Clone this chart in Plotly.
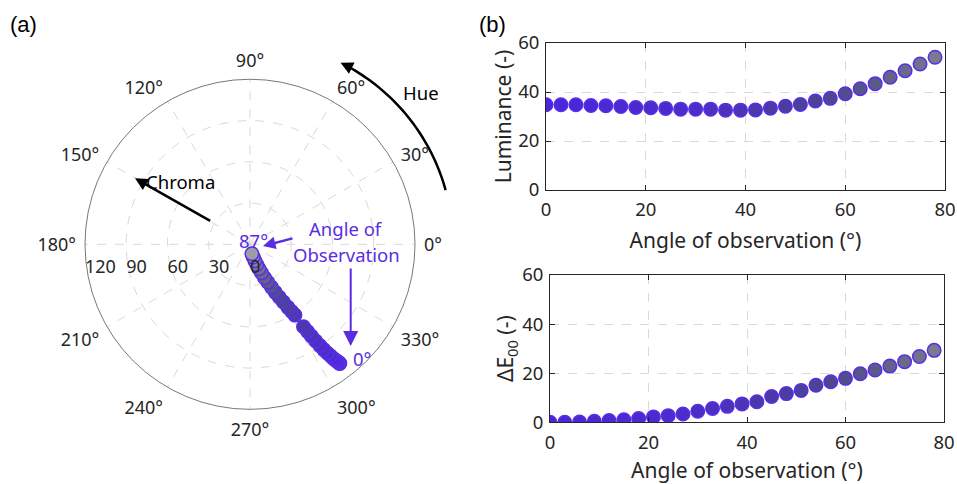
import numpy as np
import plotly.graph_objects as go

W, H = 957, 484

# ---------------- data ----------------
obs_angle = [0, 3, 6, 9, 12, 15, 18, 21, 24, 27, 30, 33, 36, 39, 42, 45, 48, 51,
             54, 57, 60, 63, 66, 69, 72, 75, 78, 81, 84, 87]
chroma = [108.5, 108.3, 107.8, 107.0, 106.0, 104.5, 102.5, 100.0, 97.0, 93.5,
          89.5, 85.0, 80.5, 76.0, 71.5, 61.0, 57.5, 53.5, 48.5, 44.0,
          39.5, 35.0, 30.5, 26.5, 22.5, 19.0, 15.5, 12.5, 9.5, 7.0]
hue = [307.0, 307.0, 306.9, 306.8, 306.6, 306.4, 306.1, 305.8, 305.4, 305.0,
       304.6, 304.2, 303.8, 303.4, 303.0, 302.4, 301.8, 301.0, 300.0, 299.0,
       297.8, 296.6, 295.2, 293.6, 292.0, 290.3, 288.5, 286.5, 284.2, 281.5]

angle_r = [0, 3, 6, 9, 12, 15, 18, 21, 24, 27, 30, 33, 36, 39, 42, 45, 48, 51,
           54, 57, 60, 63, 66, 69, 72, 75, 78]
luminance = [34.8, 34.8, 34.8, 34.5, 34.4, 34.1, 33.7, 33.6, 33.3, 33.0, 33.0,
             33.0, 32.6, 32.6, 32.7, 33.4, 34.2, 34.9, 36.3, 37.4, 39.3, 41.3,
             43.4, 46.0, 48.7, 51.4, 54.2]
delta_e = [0.0, 0.0, 0.1, 0.4, 0.7, 1.0, 1.5, 2.2, 2.7, 3.4, 4.5, 5.6, 6.5, 7.5,
           8.4, 10.5, 11.7, 13.0, 15.1, 16.5, 17.9, 19.8, 21.3, 22.9, 24.7,
           26.8, 29.3]

angular_ticks = [0, 30, 60, 90, 120, 150, 180, 210, 240, 270, 300, 330]
angular_labels = ["0°", "30°", "60°", "90°", "120°", "150°", "180°", "210°",
                  "240°", "270°", "300°", "330°"]
radial_ticks = [0, 30, 60, 90, 120]
cart_ticks_x = [0, 20, 40, 60, 80]
cart_ticks_y = [0, 20, 40, 60]

# ---------------- style ----------------
FONT = "Noto Sans"
TXT = "#262626"
PURPLE = "#5a2de3"
EDGE = "#5a2ee6"
GRID = "#d9d9d9"
TICK_SIZE = 18.5
TITLE_SIZE = 21
ANN_SIZE = 18.5
cscale = [[0.0, "#4b25dc"], [0.34, "#4a2ec8"], [0.52, "#4a3aa6"],
          [0.655, "#4b4890"], [0.76, "#5a5a88"], [0.9, "#7a7a90"],
          [1.0, "#9c9ca8"]]


def marker(vals):
    return dict(size=13.5, color=vals, colorscale=cscale, cmin=0, cmax=87,
                showscale=False, line=dict(color=EDGE, width=1.5))


def px(x, y):
    return x / W, 1 - y / H


fig = go.Figure()

fig.add_trace(go.Scatterpolar(r=chroma, theta=hue, mode="markers",
                              marker=marker(obs_angle), showlegend=False,
                              subplot="polar"))
fig.add_trace(go.Scatter(x=angle_r, y=luminance, mode="markers",
                         marker=marker(angle_r), showlegend=False,
                         xaxis="x", yaxis="y"))
fig.add_trace(go.Scatter(x=angle_r, y=delta_e, mode="markers",
                         marker=marker(angle_r), showlegend=False,
                         xaxis="x2", yaxis="y2"))

# polar geometry (pixels)
cx, cy, R = 250.0, 244.3, 165.0
x0, y0 = px(cx - R, cy + R)
x1, y1 = px(cx + R, cy - R)

fig.update_layout(
    template="none",
    width=W, height=H,
    margin=dict(l=0, r=0, t=0, b=0, pad=0, autoexpand=False),
    paper_bgcolor="white", plot_bgcolor="white",
    font=dict(family=FONT, size=TICK_SIZE, color=TXT),
    polar=dict(
        domain=dict(x=[x0, x1], y=[y0, y1]),
        bgcolor="white",
        angularaxis=dict(
            tickmode="array", tickvals=angular_ticks, ticktext=angular_labels,
            direction="counterclockwise",
            rotation=0, showline=True, linecolor="#555555", linewidth=0.8,
            showgrid=True, gridcolor=GRID, griddash="dash", gridwidth=1,
            ticks="outside", ticklen=5, tickcolor="rgba(0,0,0,0)",
            tickfont=dict(size=18, color=TXT)),
        radialaxis=dict(
            range=[0, 120], tickmode="array", tickvals=radial_ticks,
            angle=180, tickangle=180,
            side="counterclockwise", showline=False,
            ticks="outside", ticklen=3, tickcolor="rgba(0,0,0,0)",
            showgrid=True, gridcolor=GRID, griddash="dash", gridwidth=1,
            tickfont=dict(size=18, color=TXT)),
    ),
)

axis_common = dict(showline=True, linecolor=TXT, linewidth=1, mirror="ticks",
                   ticks="inside", ticklen=5, tickcolor=TXT, showgrid=True,
                   gridcolor=GRID, griddash="dash", zeroline=False,
                   automargin=False,
                   tickfont=dict(size=TICK_SIZE, color=TXT))

ax_l, ay_t = px(546, 43)
ax_r, ay_b = px(945, 190)
bx_l, by_t = px(550, 275)
bx_r, by_b = px(944, 422.3)

fig.update_layout(
    xaxis=dict(domain=[ax_l, ax_r], range=[0, 80], tickvals=cart_ticks_x,
               anchor="y", ticklabelstandoff=3,
               title=dict(text="Angle of observation (°)", standoff=13,
                          font=dict(size=TITLE_SIZE)),
               **axis_common),
    yaxis=dict(domain=[ay_b, ay_t], range=[0, 60], tickvals=cart_ticks_y,
               anchor="x", ticklabelstandoff=2,
               title=dict(text="Luminance (-)", standoff=0,
                          font=dict(size=TITLE_SIZE)),
               **axis_common),
    xaxis2=dict(domain=[bx_l, bx_r], range=[0, 80], tickvals=cart_ticks_x,
                anchor="y2", ticklabelstandoff=3,
                title=dict(text="Angle of observation (°)", standoff=11,
                           font=dict(size=TITLE_SIZE)),
                **axis_common),
    yaxis2=dict(domain=[by_b, by_t], range=[0, 60], tickvals=cart_ticks_y,
                anchor="x2", ticklabelstandoff=2,
                title=dict(text="ΔE<sub>00</sub> (-)", standoff=2,
                           font=dict(size=TITLE_SIZE)),
                **axis_common),
)

annotations = []


def text(x, y, s, color="black", size=ANN_SIZE, family=FONT):
    X, Y = px(x, y)
    annotations.append(dict(x=X, y=Y, xref="paper", yref="paper", text=s,
                            showarrow=False, xanchor="center", yanchor="middle",
                            font=dict(size=size, color=color, family=family)))


def arrow(tipx, tipy, tailx, taily, color, width=2.5, size=1.0):
    X, Y = px(tipx, tipy)
    annotations.append(dict(x=X, y=Y, xref="paper", yref="paper", text="",
                            showarrow=True, arrowhead=2, arrowsize=size,
                            arrowwidth=width, arrowcolor=color,
                            ax=tailx - tipx, ay=taily - tipy,
                            axref="pixel", ayref="pixel", standoff=0))


text(23, 25, "(a)", size=22, family="Liberation Sans")
text(492, 25, "(b)", size=22, family="Liberation Sans")

# Chroma arrow
arrow(135, 178.3, 211.7, 221.7, "black")
text(180, 182, "Chroma")
# Hue arc arrow
Rh = 203.0
th = np.radians(np.linspace(15.5, 61.0, 40))
pts = [px(cx + Rh * np.cos(t), cy - Rh * np.sin(t)) for t in th]
path = "M " + " L ".join(f"{a:.5f},{b:.5f}" for a, b in pts)
tip_t = np.radians(63.5)
tipx, tipy = cx + Rh * np.cos(tip_t), cy - Rh * np.sin(tip_t)
arrow(tipx, tipy, tipx + 14 * np.sin(tip_t), tipy + 14 * np.cos(tip_t), "black")
text(421, 92, "Hue")

# Observation annotations
text(346, 228, "Angle of", color=PURPLE)
text(346, 254, "Observation", color=PURPLE)
text(254, 240, "87°", color=PURPLE)
arrow(263, 246, 294, 238, PURPLE)
arrow(350.7, 346, 350.7, 267, PURPLE, width=2, size=1.5)
text(362, 358, "0°", color=PURPLE)

fig.update_layout(annotations=annotations,
                  shapes=[dict(type="path", path=path, xref="paper",
                               yref="paper",
                               line=dict(color="black", width=2.5))])

fig.write_html("out.html",
               config={"displayModeBar": False},
               post_script="document.body.style.margin='0';"
                           "document.body.style.overflow='hidden';")
